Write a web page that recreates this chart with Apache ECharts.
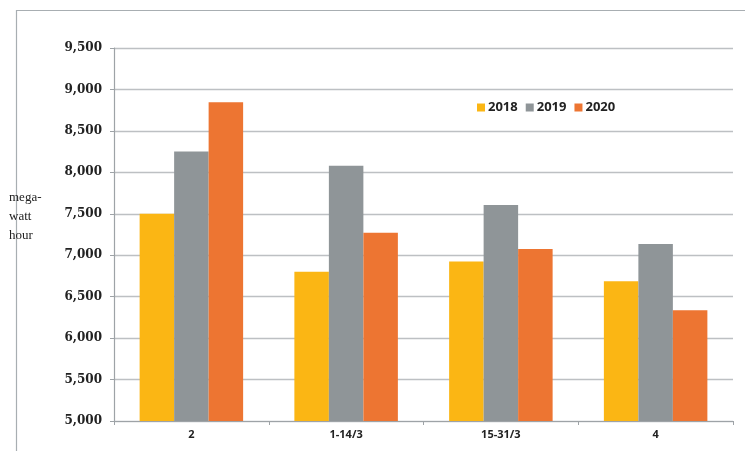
<!DOCTYPE html>
<html><head><meta charset="utf-8">
<script src="https://cdn.jsdelivr.net/npm/echarts@6/dist/echarts.min.js"></script>
<style>html,body{margin:0;padding:0;background:#fff}#c{width:745px;height:451px}</style>
</head><body><div id="c"></div>
<script>
const categories = ['2', '1-14/3', '15-31/3', '4'];
const seriesNames = ['2018', '2019', '2020'];
const values2018 = [7500, 6800, 6925, 6685];
const values2019 = [8250, 8080, 7605, 7135];
const values2020 = [8845, 7270, 7075, 6335];
const yTicks = [5000, 5500, 6000, 6500, 7000, 7500, 8000, 8500, 9000, 9500];
const colors = ['#FBB614', '#8F9598', '#ED7532'];

const chart = echarts.init(document.getElementById('c'), null, {renderer: 'canvas'});
const data = [values2018, values2019, values2020];
chart.setOption({
  animation: false,
  backgroundColor: '#fff',
  grid: {left: 114, right: 12, top: 48, bottom: 30},
  graphic: [
    {type: 'rect', shape: {x: 16.5, y: 10.5, width: 760, height: 460}, style: {fill: 'none', stroke: '#A8AEB2', lineWidth: 1.2}, z: -1},
    {type: 'text', left: 9, top: 188, style: {text: 'mega-\nwatt\nhour', font: '13px "Liberation Serif"', fill: '#222', lineHeight: 19}}
  ],
  legend: {
    left: 472, top: 96,
    itemWidth: 8, itemHeight: 8, itemGap: 8,
    icon: 'rect',
    textStyle: {fontFamily: 'Open Sans', fontWeight: 'bold', fontSize: 13, color: '#222', padding: [0, 0, 0, -2]},
    data: seriesNames
  },
  xAxis: {
    type: 'category', data: categories,
    axisLine: {lineStyle: {color: '#9EA3A7', width: 1.2}},
    axisTick: {show: true, length: 4, lineStyle: {color: '#9EA3A7'}},
    axisLabel: {fontFamily: 'Open Sans', fontWeight: 'bold', fontSize: 11, color: '#222', margin: 8}
  },
  yAxis: {
    type: 'value', min: 5000, max: 9500, interval: 500,
    axisLine: {show: true, lineStyle: {color: '#9EA3A7', width: 1.2}},
    axisTick: {show: true, length: 4, lineStyle: {color: '#9EA3A7'}},
    splitLine: {lineStyle: {color: '#BDC0C3', width: 1.3}},
    axisLabel: {
      fontFamily: 'DejaVu Serif', fontWeight: 'bold', fontSize: 12, color: '#222', margin: 12,
      formatter: v => yTicks.includes(v) ? v.toLocaleString('en-US') : ''
    }
  },
  series: seriesNames.map((n, i) => ({
    name: n, type: 'bar', data: data[i],
    barWidth: 34.5, barGap: '0%',
    itemStyle: {color: colors[i]}
  }))
});
</script></body></html>
